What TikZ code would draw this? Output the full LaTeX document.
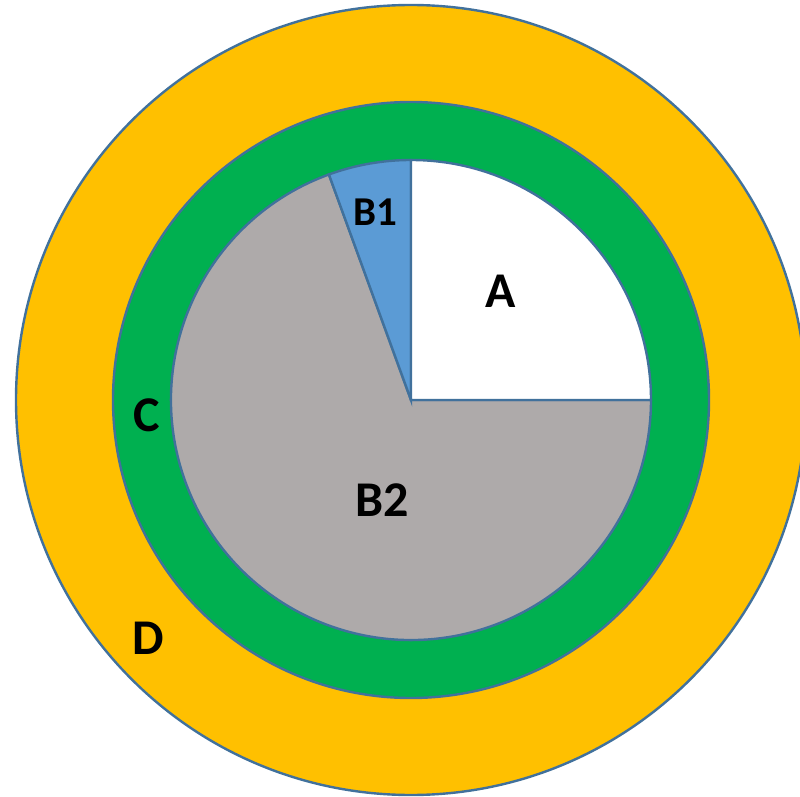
\documentclass[tikz,border=0pt]{standalone}
\usepackage{fontspec}
\setsansfont{Carlito}
\definecolor{ringD}{HTML}{FFC000}
\definecolor{ringC}{HTML}{00B050}
\definecolor{partB}{HTML}{AEAAAA}
\definecolor{partBa}{HTML}{5B9BD5}
\definecolor{edge}{HTML}{41719C}
\tikzset{
  part/.style={draw=edge,line width=2.4pt},
  lbl/.style={font=\sffamily\bfseries\fontsize{50}{50}\selectfont,inner sep=0pt},
  lblsmall/.style={font=\sffamily\bfseries\fontsize{41}{41}\selectfont,inner sep=0pt}
}
\begin{document}
\begin{tikzpicture}[x=1pt,y=1pt]
          \useasboundingbox (0,0) rectangle (800,796);
          \def\rD{395} \def\rC{298} \def\rB{240}
          \coordinate (O) at (411,396);

          \fill[white] (0,0) rectangle (800,796);
          \filldraw[part,fill=ringD] (O) circle (\rD);
          \filldraw[part,fill=ringC] (O) circle (\rC);

          % inner pie
          \filldraw[part,fill=partB] (O) -- ++(110:\rB) arc (110:360:\rB) -- cycle;
          \filldraw[part,fill=partBa] (O) -- ++(90:\rB) arc (90:110:\rB) -- cycle;
          \filldraw[part,fill=white] (O) -- ++(0:\rB) arc (0:90:\rB) -- cycle;

          \node[lbl] (lA) at (501,505) {A};
          \node[lblsmall] (lB1) at (375,584) {B1};
          \node[lbl] (lB2) at (382,296) {B2};
          \node[lbl] (lC) at (147,381) {C};
          \node[lbl] (lD) at (148,158) {D};
        \end{tikzpicture}
\end{document}
